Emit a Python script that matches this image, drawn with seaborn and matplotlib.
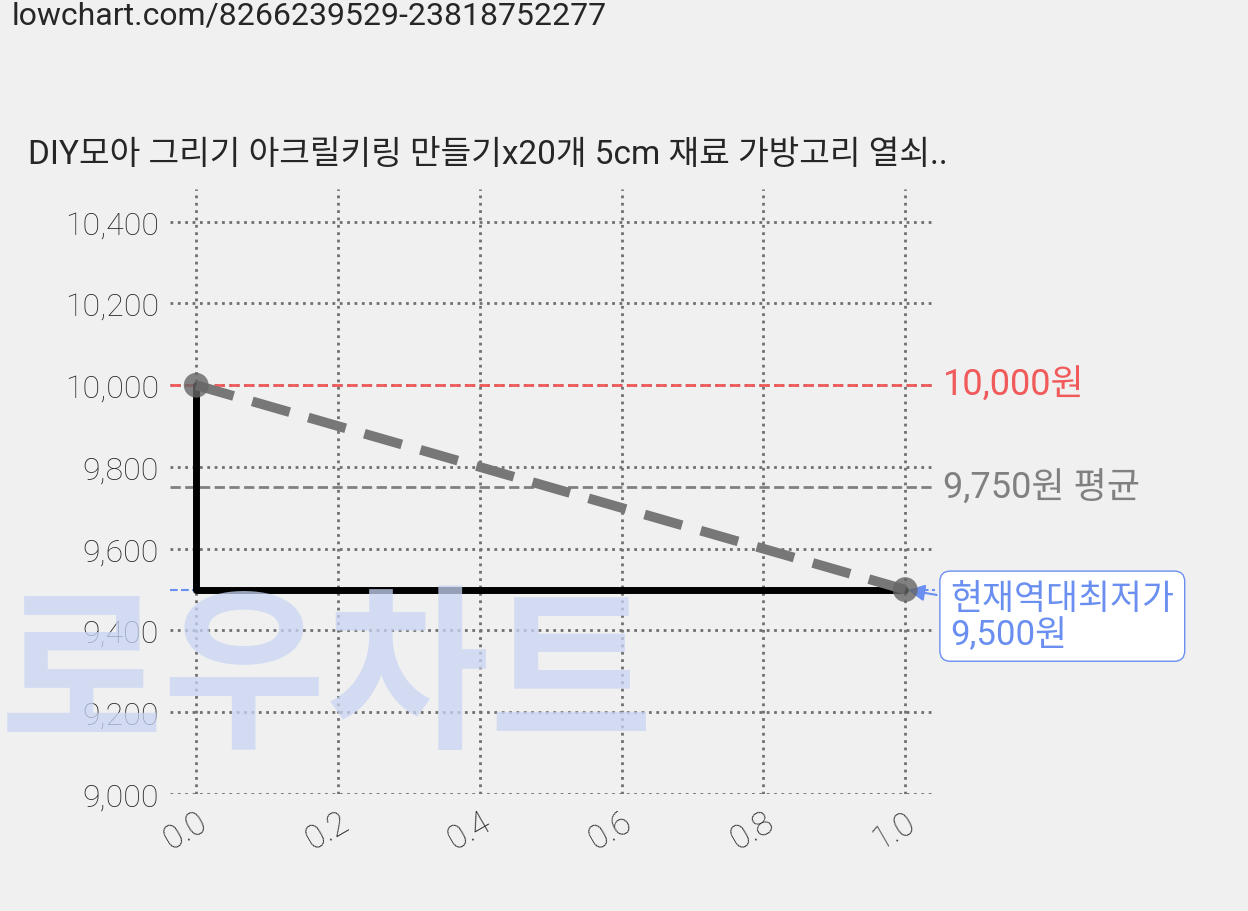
import matplotlib
matplotlib.use("Agg")
import matplotlib.pyplot as plt
import seaborn as sns
import pandas as pd

x_vals = [0.0, 1.0]
prices = [10000, 9500]
max_price = 10000
avg_price = 9750
min_price = 9500
title = "DIY모아 그리기 아크릴키링 만들기x20개 5cm 재료 가방고리 열쇠.."
url = "lowchart.com/8266239529-23818752277"

sns.set_theme(style="white")
plt.rcParams['font.family'] = ['Roboto', 'Noto Sans CJK KR', 'DejaVu Sans']
bg = "#f0f0f0"
fig = plt.figure(figsize=(12.48, 9.12), dpi=100, facecolor=bg)
fig.text(0.0, 1 - 685/912, "로우차트", fontsize=128, color="#c8d5f3", alpha=0.75, fontweight="bold",
         ha="left", va="center", zorder=0)
ax = fig.add_axes([170/1248, 1-795/912, (935-170)/1248, (795-190)/912])
ax.patch.set_alpha(0)
for s in ax.spines.values():
    s.set_visible(False)

df = pd.DataFrame({"x": x_vals, "y": prices})
ax.grid(True, linestyle=":", color="#707070", linewidth=2)
ax.axhline(max_price, color="#f05a5a", ls="--", lw=2)
ax.axhline(avg_price, color="#808080", ls="--", lw=2)
ax.axhline(min_price, color="#6a8ff0", ls="--", lw=1.5)
ax.plot(x_vals, prices, drawstyle="steps-pre", color="black", lw=5)
sns.lineplot(data=df, x="x", y="y", ax=ax, color="#777777", lw=7, linestyle=(0, (4, 2)))
sns.scatterplot(data=df, x="x", y="y", ax=ax, color="#666666", s=320, alpha=0.8, zorder=5, edgecolor="none")

ax.set_xlim(-0.037, 1.042)
ax.set_ylim(9000, 10480)
ax.set_xticks([0, 0.2, 0.4, 0.6, 0.8, 1.0])
ax.set_xticklabels(["0.0", "0.2", "0.4", "0.6", "0.8", "1.0"], rotation=30, fontsize=24,
                   fontweight="light", ha="right", rotation_mode="anchor")
ax.set_yticks(range(9000, 10401, 200))
ax.set_yticklabels([f"{v:,}" for v in range(9000, 10401, 200)], fontsize=23, fontweight="light")
ax.tick_params(length=0, pad=8)
ax.set_xlabel("")
ax.set_ylabel("")

yt = ax.get_yaxis_transform()
ax.text(1.01, max_price, f"{max_price:,}원", color="#f05a5a", fontsize=26, va="center", transform=yt)
ax.text(1.01, avg_price, f"{avg_price:,}원 평균", color="#808080", fontsize=26, va="center", transform=yt)
ax.annotate(f"현재역대최저가\n{min_price:,}원", xy=(1.0, min_price), xytext=(1.02, 9435),
            textcoords=yt, color="#6a8ff0", fontsize=25, va="center", linespacing=1.1,
            bbox=dict(boxstyle="round,pad=0.3", fc="white", ec="#6a8ff0"),
            arrowprops=dict(arrowstyle="-|>", color="#6a8ff0", lw=1.5))

fig.text(28/1248, 1-155/912, title, fontsize=24, va="center")
fig.text(12/1248, 1-16/912, url, fontsize=23, va="center")
fig.savefig("out.png", dpi=100, facecolor=bg)
